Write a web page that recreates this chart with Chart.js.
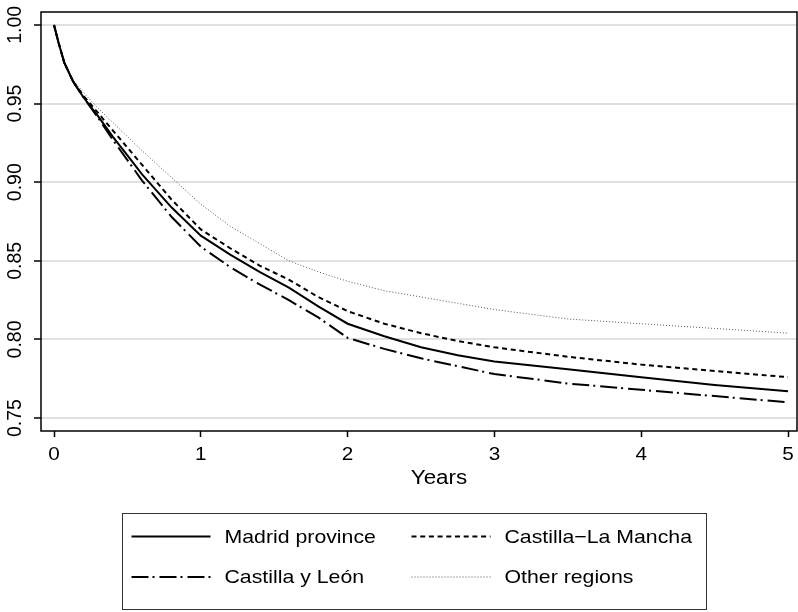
<!DOCTYPE html>
<html>
<head>
<meta charset="utf-8">
<script src="https://cdn.jsdelivr.net/npm/chart.js@4.4.1/dist/chart.umd.min.js"></script>
<style>
	html, body { margin: 0; padding: 0; background: #fff; }
	#wrap { width: 798px; height: 612px; }
</style>
</head>
<body>
<div id="wrap"><canvas id="survChart" width="798" height="612"></canvas></div>
<script>
// Survival estimates
const years = [ 0, 0.03, 0.07, 0.13, 0.2, 0.3, 0.4, 0.5, 0.6, 0.8, 1.0, 1.2, 1.4, 1.6, 1.8, 2.0, 2.25, 2.5, 2.75, 3.0, 3.5, 4.0, 4.5, 5.0 ];
const madrid = [ 1.000, 0.989, 0.976, 0.964, 0.954, 0.942, 0.929, 0.917, 0.905, 0.884, 0.866, 0.854, 0.843, 0.833, 0.821, 0.810, 0.802, 0.795, 0.790, 0.786, 0.781, 0.776, 0.771, 0.767 ];
const laMancha = [ 1.000, 0.989, 0.976, 0.964, 0.955, 0.944, 0.933, 0.922, 0.911, 0.889, 0.870, 0.858, 0.847, 0.838, 0.827, 0.818, 0.810, 0.804, 0.799, 0.795, 0.789, 0.784, 0.780, 0.776 ];
const leon = [ 1.000, 0.989, 0.976, 0.964, 0.954, 0.941, 0.927, 0.914, 0.901, 0.878, 0.859, 0.846, 0.835, 0.825, 0.814, 0.801, 0.794, 0.788, 0.783, 0.778, 0.772, 0.768, 0.764, 0.760 ];
const otherRegions = [ 1.000, 0.989, 0.976, 0.965, 0.957, 0.947, 0.938, 0.929, 0.920, 0.903, 0.886, 0.872, 0.861, 0.850, 0.843, 0.837, 0.831, 0.827, 0.823, 0.819, 0.813, 0.810, 0.807, 0.804 ];

const seriesNames = [ 'Madrid province', 'Castilla\u2212La Mancha', 'Castilla y León', 'Other regions' ];
const xTicks = [ 0, 1, 2, 3, 4, 5 ];
const yTicks = [ 0.75, 0.80, 0.85, 0.90, 0.95, 1.00 ];
const xTitle = 'Years';

const FONT = '"Liberation Sans", Arial, Helvetica, sans-serif';
// the reference lettering is a little wider than Liberation Sans
const STRETCH = 1.12;

function toPoints( values ) {
	return values.map( ( v, i ) => ( { x: years[ i ], y: v } ) );
}

const styles = [
	{ color: '#000', width: 2, dash: [] },
	{ color: '#000', width: 2, dash: [ 5, 3.7 ] },
	{ color: '#000', width: 2, dash: [ 17, 4, 2, 5 ] },
	{ color: '#555', width: 1, dash: [ 1, 2 ] },
];

function wideText( ctx, text, x, y, align ) {
	ctx.save();
	ctx.translate( x, y );
	ctx.scale( STRETCH, 1 );
	ctx.textAlign = align;
	ctx.fillText( text, 0, 0 );
	ctx.restore();
}

// Frame, axis lettering and the Stata-like legend box
const decorPlugin = {
	id: 'decor',
	afterDraw( chart ) {
		const ctx = chart.ctx;
		const a = chart.chartArea;
		const xScale = chart.scales.x;
		const yScale = chart.scales.y;
		ctx.save();
		ctx.strokeStyle = '#000';
		ctx.lineWidth = 1.5;
		ctx.strokeRect( a.left, a.top, a.right - a.left, a.bottom - a.top );

		ctx.fillStyle = '#000';
		ctx.textBaseline = 'middle';

		// y labels, rotated
		ctx.font = '19.5px ' + FONT;
		ctx.textAlign = 'center';
		yTicks.forEach( ( t ) => {
			const y = yScale.getPixelForValue( t );
			ctx.save();
			ctx.translate( 16, y );
			ctx.rotate( -Math.PI / 2 );
			ctx.fillText( t.toFixed( 2 ), 0, 0 );
			ctx.restore();
		} );

		// x labels
		ctx.font = '18.5px ' + FONT;
		xTicks.forEach( ( t ) => {
			wideText( ctx, String( t ), xScale.getPixelForValue( t ), 455, 'center' );
		} );

		// x title
		ctx.font = '20px ' + FONT;
		wideText( ctx, xTitle, 439, 478, 'center' );

		// legend
		const box = { x: 122.5, y: 513.5, w: 584, h: 96 };
		ctx.strokeStyle = '#333';
		ctx.lineWidth = 1;
		ctx.strokeRect( box.x, box.y, box.w, box.h );
		const cols = [ 131.5, 411.5 ];
		const rows = [ 536.5, 577 ];
		ctx.font = '19px ' + FONT;
		seriesNames.forEach( ( name, i ) => {
			const cx = cols[ i % 2 ];
			const cy = rows[ Math.floor( i / 2 ) ];
			const s = styles[ i ];
			ctx.beginPath();
			ctx.strokeStyle = s.color;
			ctx.lineWidth = s.width;
			ctx.setLineDash( s.dash );
			ctx.moveTo( cx, cy );
			ctx.lineTo( cx + 79, cy );
			ctx.stroke();
			ctx.setLineDash( [] );
			ctx.fillStyle = '#000';
			wideText( ctx, name, cx + 93, cy + 1, 'left' );
		} );
		ctx.restore();
	},
};

const ctx = document.getElementById( 'survChart' ).getContext( '2d' );

new Chart( ctx, {
	type: 'line',
	data: {
		datasets: [ madrid, laMancha, leon, otherRegions ].map( ( values, i ) => ( {
			label: seriesNames[ i ],
			data: toPoints( values ),
			borderColor: styles[ i ].color,
			borderWidth: styles[ i ].width,
			borderDash: styles[ i ].dash,
			pointRadius: 0,
			tension: 0,
			fill: false,
		} ) ),
	},
	options: {
		responsive: false,
		animation: false,
		layout: { padding: { top: 12, right: 1, bottom: 119, left: 0 } },
		plugins: {
			legend: { display: false },
			tooltip: { enabled: false },
		},
		scales: {
			x: {
				type: 'linear',
				min: -0.0886,
				max: 5.061,
				afterBuildTicks( scale ) {
					scale.ticks = xTicks.map( ( v ) => ( { value: v } ) );
				},
				afterFit( scale ) {
					scale.height = 62;
				},
				border: { display: false },
				grid: {
					drawOnChartArea: false,
					drawTicks: true,
					tickLength: 6,
					tickColor: '#000',
					tickWidth: 1.5,
				},
				ticks: { display: false },
			},
			y: {
				type: 'linear',
				min: 0.7418,
				max: 1.0082,
				afterBuildTicks( scale ) {
					scale.ticks = yTicks.map( ( v ) => ( { value: v } ) );
				},
				afterFit( scale ) {
					scale.width = 41;
				},
				border: { display: false },
				grid: {
					color: '#e0e0e0',
					lineWidth: 2,
					drawTicks: true,
					tickLength: 7,
					tickColor: '#000',
					tickWidth: 1.5,
				},
				ticks: { display: false },
			},
		},
	},
	plugins: [ decorPlugin ],
} );
</script>
</body>
</html>
